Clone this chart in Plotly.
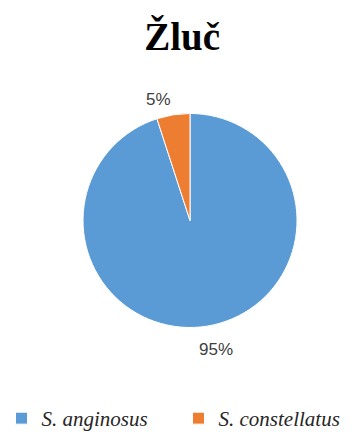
import math
import plotly.graph_objects as go

# Species share in bile samples
species = ["S. anginosus", "S. constellatus"]
shares = [95, 5]
colors = ["#5B9BD5", "#ED7D31"]

# Pie placement (paper coordinates)
dom_x = [0.2325, 0.832]
dom_y = [0.254, 0.7415]
W, H = 357, 439

fig = go.Figure(
    go.Pie(
        labels=species,
        values=shares,
        sort=False,
        direction="clockwise",
        rotation=0,
        marker=dict(colors=colors, line=dict(color="white", width=1)),
        textinfo="none",
        hoverinfo="label+percent",
        domain=dict(x=dom_x, y=dom_y),
    )
)

# Percent labels just outside each slice, at the slice's mid-angle
cx = (dom_x[0] + dom_x[1]) / 2
cy = (dom_y[0] + dom_y[1]) / 2
radius_px = (dom_x[1] - dom_x[0]) * W / 2 + 8
total = sum(shares)
label_shift = {"S. anginosus": (8, -15), "S. constellatus": (-14, 7)}
start = 0.0
for name, v in zip(species, shares):
    mid = (start + v / 2) / total * 2 * math.pi  # clockwise from 12 o'clock
    start += v
    px = math.sin(mid) * radius_px
    py = math.cos(mid) * radius_px
    sx, sy = label_shift[name]
    fig.add_annotation(
        x=cx + px / W,
        y=cy + py / H,
        xref="paper",
        yref="paper",
        text=f"{round(v / total * 100)}%",
        showarrow=False,
        xanchor="center",
        yanchor="middle",
        xshift=sx,
        yshift=sy,
        font=dict(family="Liberation Sans, Arial, sans-serif", size=17, color="#404040"),
    )

fig.update_layout(
    width=W,
    height=H,
    margin=dict(l=0, r=0, t=0, b=0),
    paper_bgcolor="white",
    plot_bgcolor="white",
    title=dict(
        text="<b>Žluč</b>",
        font=dict(family="Liberation Serif, Times New Roman, serif", size=39, color="black"),
        x=0.51,
        xanchor="center",
        y=0.918,
        yanchor="middle",
    ),
    legend=dict(
        orientation="h",
        x=0.5,
        xanchor="center",
        y=0.0,
        yanchor="bottom",
        font=dict(family="Liberation Serif", size=21, color="#262626", style="italic"),
        itemwidth=30,
        entrywidth=132,
        traceorder="normal",
    ),
    showlegend=True,
)

fig.write_html("out.html")
